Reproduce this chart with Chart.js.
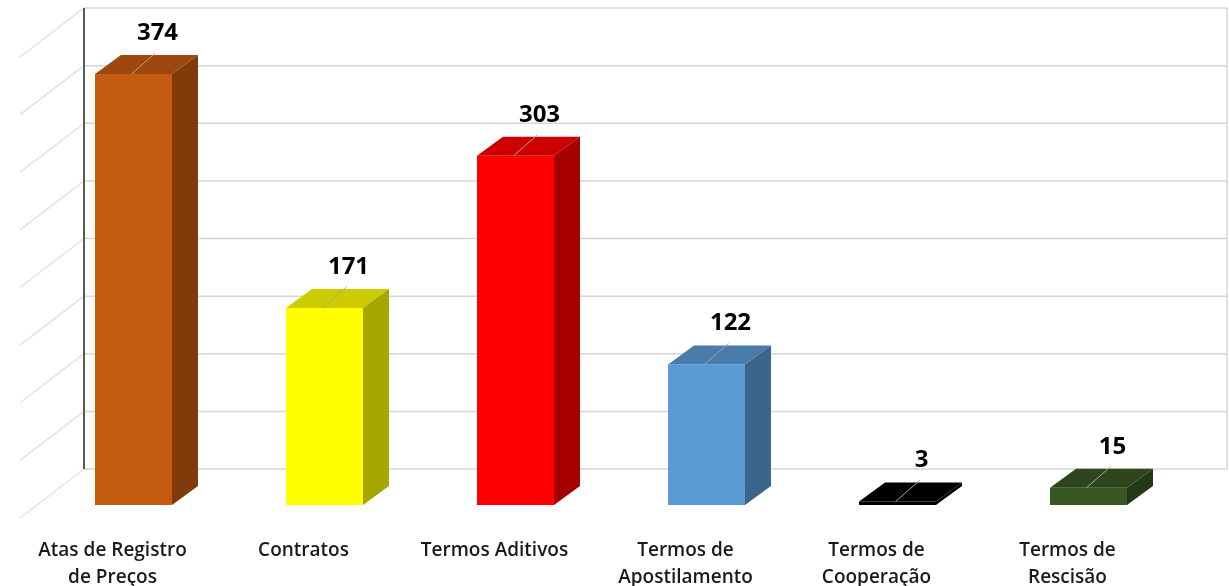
<!DOCTYPE html>
<html>
<head>
<meta charset="utf-8">
<script src="https://cdn.jsdelivr.net/npm/chart.js@4.4.1/dist/chart.umd.min.js"></script>
<style>
  body { margin: 0; background: #fff; }
  #wrap { width: 1229px; height: 586px; position: relative; }
</style>
</head>
<body>
<div id="wrap"><canvas id="mycanvas"></canvas></div>
<script>
var categories = [
  ['Atas de Registro', 'de Preços'],
  'Contratos',
  'Termos Aditivos',
  ['Termos de', 'Apostilamento'],
  ['Termos de', 'Cooperação'],
  ['Termos de', 'Rescisão']
];
var quantity = [374, 171, 303, 122, 3, 15];
var frontColors = ['#C55A11', '#FFFF00', '#FF0000', '#5B9BD5', '#000000', '#385723'];

// depth of the 3d look, in pixels
var DX = 26, DY = 19;
var WALL_DX = 46, WALL_DY = 36;
var SIDE_DX = -64, SIDE_DY = 49;

function shade(hex, f) {
  var n = parseInt(hex.slice(1), 16);
  var r = Math.round(((n >> 16) & 255) * f);
  var g = Math.round(((n >> 8) & 255) * f);
  var b = Math.round((n & 255) * f);
  return 'rgb(' + r + ',' + g + ',' + b + ')';
}

var wallPlugin = {
  id: 'wall',
  beforeDatasetsDraw: function(chart) {
    var ctx = chart.ctx;
    var y = chart.scales.y;
    var area = chart.chartArea;
    var left = area.left + WALL_DX;
    var right = Math.min(area.right + 46, chart.width - 2);
    var top = y.getPixelForValue(y.max) - WALL_DY;
    var bottom = y.getPixelForValue(0) - WALL_DY;
    ctx.save();
    for (var v = y.min; v <= y.max; v += 50) {
      var py = y.getPixelForValue(v) - WALL_DY;
      ctx.strokeStyle = '#d6d6d6';
      ctx.lineWidth = 1.5;
      ctx.beginPath();
      ctx.moveTo(left, py);
      ctx.lineTo(right, py);
      ctx.stroke();
      ctx.strokeStyle = '#e2e2e2';
      ctx.beginPath();
      ctx.moveTo(left, py);
      ctx.lineTo(left + SIDE_DX, py + SIDE_DY);
      ctx.stroke();
    }
    ctx.strokeStyle = '#d6d6d6';
    ctx.beginPath();
    ctx.moveTo(right, top);
    ctx.lineTo(right, bottom);
    ctx.stroke();
    ctx.strokeStyle = '#595959';
    ctx.lineWidth = 2;
    ctx.beginPath();
    ctx.moveTo(left, top);
    ctx.lineTo(left, bottom);
    ctx.stroke();
    ctx.restore();
  }
};

var boxPlugin = {
  id: 'box3d',
  afterDatasetsDraw: function(chart) {
    var ctx = chart.ctx;
    var meta = chart.getDatasetMeta(0);
    ctx.save();
    meta.data.forEach(function(bar, i) {
      var col = frontColors[i];
      var l = bar.x - bar.width / 2, r = bar.x + bar.width / 2;
      var t = bar.y, b = bar.base;
      // top face
      ctx.fillStyle = shade(col, 0.8);
      ctx.beginPath();
      ctx.moveTo(l, t);
      ctx.lineTo(r, t);
      ctx.lineTo(r + DX, t - DY);
      ctx.lineTo(l + DX, t - DY);
      ctx.closePath();
      ctx.fill();
      // side face
      ctx.fillStyle = shade(col, 0.65);
      ctx.beginPath();
      ctx.moveTo(r, t);
      ctx.lineTo(r + DX, t - DY);
      ctx.lineTo(r + DX, b - DY);
      ctx.lineTo(r, b);
      ctx.closePath();
      ctx.fill();
      // leader line + value
      ctx.strokeStyle = '#a6a6a6';
      ctx.lineWidth = 1;
      ctx.beginPath();
      ctx.moveTo(bar.x - 2, t);
      ctx.lineTo(bar.x + 22, t - 21);
      ctx.stroke();
      ctx.fillStyle = '#000';
      ctx.font = 'bold 24px "Open Sans"';
      ctx.textAlign = 'center';
      ctx.textBaseline = 'middle';
      ctx.fillText(quantity[i], bar.x + 24, t - 41);
    });
    ctx.restore();
  }
};

var chartdata = {
  labels: categories,
  datasets: [{
    label: 'Total',
    backgroundColor: frontColors,
    borderWidth: 0,
    barPercentage: 0.403,
    categoryPercentage: 1,
    data: quantity
  }]
};

var ctx = document.getElementById('mycanvas');
var barGraph = new Chart(ctx, {
  type: 'bar',
  data: chartdata,
  plugins: [wallPlugin, boxPlugin],
  options: {
    responsive: true,
    maintainAspectRatio: false,
    animation: false,
    layout: { padding: { top: 44, left: 38, right: 45, bottom: 0 } },
    plugins: {
      legend: { display: false },
      tooltip: { enabled: false }
    },
    scales: {
      y: {
        display: false,
        min: 0,
        max: 400,
        ticks: { stepSize: 50 }
      },
      x: {
        grid: { display: false },
        border: { display: false },
        ticks: {
          color: '#1a1a1a',
          font: { family: 'Open Sans', size: 19, weight: '600', lineHeight: 1.42 },
          labelOffset: -21,
          padding: 24,
          maxRotation: 0,
          autoSkip: false
        },
        afterFit: function(scale) { scale.height = 81; }
      }
    }
  }
});
</script>
</body>
</html>
